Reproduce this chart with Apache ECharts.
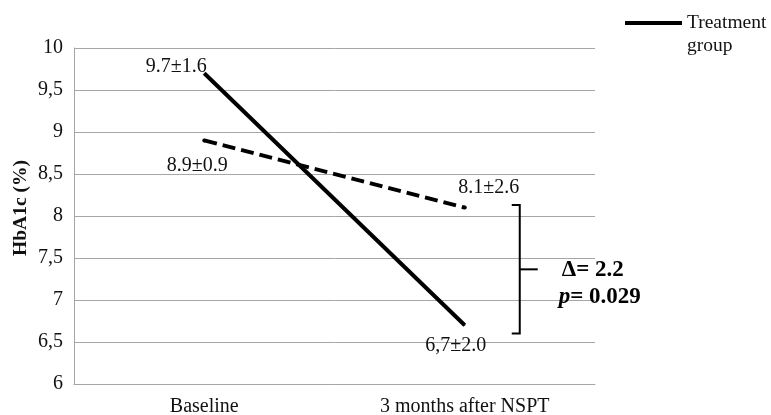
<!DOCTYPE html>
<html><head><meta charset="utf-8">
<script src="https://cdn.jsdelivr.net/npm/echarts@6/dist/echarts.min.js"></script>
<style>html,body{margin:0;padding:0;background:#fff}#c{width:771px;height:415px}</style>
</head><body><div id="c"></div>
<script>
// ---- data ----
const categories = ['Baseline', '3 months after NSPT'];
const treatmentName = 'Treatment group';
const controlName = 'Control group';
const treatmentValues = [9.7, 6.7];
const controlValues = [8.9, 8.1];
const treatmentLabels = ['9.7±1.6', '6,7±2.0'];
const controlLabels = ['8.9±0.9', '8.1±2.6'];
const yTickLabels = ['6', '6,5', '7', '7,5', '8', '8,5', '9', '9,5', '10'];
const bracketSpan = [8.13, 6.6];      // bracket top / bottom values
const deltaText = 'Δ= 2.2';
const pValueText = '0.029';

// ---- styling ----
const FONT = '"Liberation Serif", "Times New Roman", serif';
const treatOffsets = [[-28, -6], [-9, 21]];
const ctrlOffsets = [[-7, 25], [24, -20]];

function mkData(vals, labels, offs) {
  return vals.map((v, i) => ({
    value: v,
    label: { show: true, position: 'inside', offset: offs[i], formatter: labels[i],
      fontFamily: FONT, fontSize: 20, color: '#111' }
  }));
}

const chart = echarts.init(document.getElementById('c'), null, { renderer: 'canvas' });
chart.setOption({
  animation: false,
  backgroundColor: '#fff',
  textStyle: { fontFamily: FONT },
  grid: { left: 74, right: 176, top: 48, bottom: 31, containLabel: false, outerBoundsMode: 'none' },
  legend: {
    data: [{ name: treatmentName, icon: 'rect' }],
    left: 625, top: 12, padding: 0,
    itemWidth: 57, itemHeight: 4,
    formatter: () => 'Treatment',
    textStyle: { fontFamily: FONT, fontSize: 19.5, color: '#111', lineHeight: 22 },
    selectedMode: false
  },
  graphic: [{
    type: 'text', left: 687, top: 36,
    style: { text: 'group', font: '19.5px ' + FONT, fill: '#111' }
  }],
  xAxis: {
    type: 'category', data: categories, boundaryGap: true,
    axisLine: { lineStyle: { color: '#a6a6a6', width: 1 } },
    axisTick: { show: false },
    axisLabel: { fontFamily: FONT, fontSize: 20, color: '#111', margin: 13 }
  },
  yAxis: {
    type: 'value', min: 6, max: 10, interval: 0.5,
    name: 'HbA1c (%)', nameLocation: 'middle', nameGap: 43, nameRotate: 90,
    nameMoveOverlap: false,
    nameTextStyle: { fontFamily: FONT, fontSize: 19.5, fontWeight: 'bold', color: '#111',
      padding: [0, 0, 0, 16] },
    axisLine: { show: true, lineStyle: { color: '#a6a6a6', width: 1 } },
    axisTick: { show: false },
    splitLine: { lineStyle: { color: '#a6a6a6', width: 1 } },
    axisLabel: {
      fontFamily: FONT, fontSize: 20, color: '#111', margin: 11,
      formatter: (v) => yTickLabels[Math.round((v - 6) / 0.5)]
    }
  },
  series: [
    {
      name: treatmentName, type: 'line', data: mkData(treatmentValues, treatmentLabels, treatOffsets),
      symbol: 'circle', symbolSize: 1, itemStyle: { color: '#000' },
      lineStyle: { color: '#000', width: 4 }, z: 3
    },
    {
      name: controlName, type: 'line', data: mkData(controlValues, controlLabels, ctrlOffsets),
      symbol: 'circle', symbolSize: 4, itemStyle: { color: '#000' },
      lineStyle: { color: '#000', width: 4, type: [13, 6] }, z: 2
    },
    {
      type: 'custom', coordinateSystem: 'cartesian2d', silent: true, z: 4,
      data: [[1, bracketSpan[0], bracketSpan[1]]],
      encode: { x: 0, y: [1, 2] },
      renderItem: function (params, api) {
        const t = api.coord([api.value(0), api.value(1)]);
        const b = api.coord([api.value(0), api.value(2)]);
        const x = t[0] + 55, y1 = t[1], y2 = b[1], ym = (y1 + y2) / 2;
        return {
          type: 'group', children: [
            { type: 'polyline', shape: { points: [[x - 8, y1], [x, y1], [x, y2], [x - 8, y2]] },
              style: { stroke: '#000', lineWidth: 2, fill: null } },
            { type: 'line', shape: { x1: x, y1: ym, x2: x + 18, y2: ym },
              style: { stroke: '#000', lineWidth: 2 } },
            { type: 'text', x: x + 42, y: ym + 1,
              style: { text: deltaText, fontFamily: FONT, fontSize: 23, fontWeight: 'bold',
                fill: '#000', verticalAlign: 'middle', align: 'left' } },
            { type: 'text', x: x + 39, y: ym + 28,
              style: { text: '{i|p}= ' + pValueText, fontFamily: FONT, fontSize: 23, fontWeight: 'bold',
                fill: '#000', verticalAlign: 'middle', align: 'left',
                rich: { i: { fontStyle: 'italic', fontWeight: 'bold', fontFamily: FONT, fontSize: 23 } } } }
          ]
        };
      }
    }
  ]
});
</script></body></html>
